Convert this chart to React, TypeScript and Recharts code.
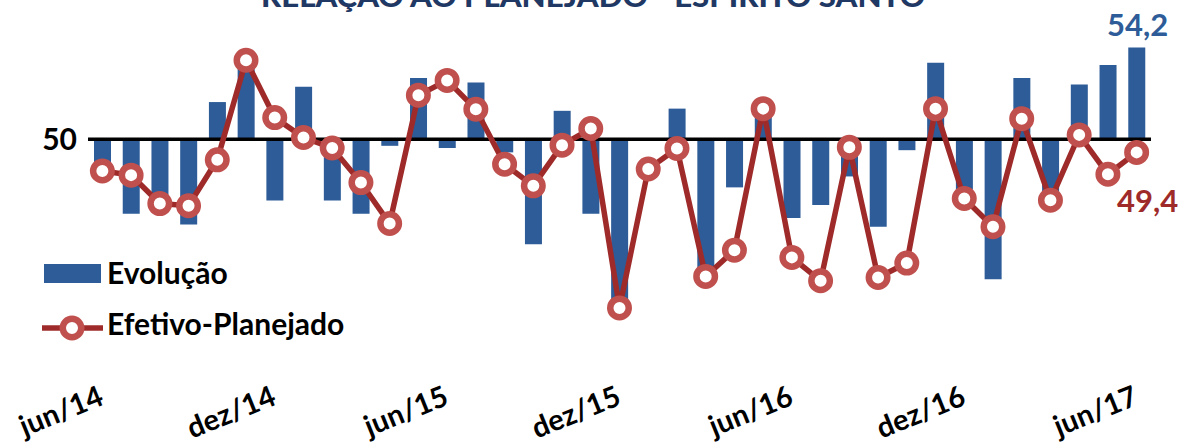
import React from "react";
import { ComposedChart, Bar, Line, XAxis, YAxis, ReferenceLine, ReferenceDot, LabelList } from "recharts";

const months = [
  "jun/14", "jul/14", "ago/14", "set/14", "out/14", "nov/14", "dez/14",
  "jan/15", "fev/15", "mar/15", "abr/15", "mai/15", "jun/15",
  "jul/15", "ago/15", "set/15", "out/15", "nov/15", "dez/15",
  "jan/16", "fev/16", "mar/16", "abr/16", "mai/16", "jun/16",
  "jul/16", "ago/16", "set/16", "out/16", "nov/16", "dez/16",
  "jan/17", "fev/17", "mar/17", "abr/17", "mai/17", "jun/17",
];

const evolucao = [
  48.7, 46.6, 46.7, 46.1, 51.7, 53.4, 47.2, 52.4, 47.2, 46.6, 49.7, 52.8, 49.6,
  52.6, 49.4, 45.2, 51.3, 46.6, 42.4, 50.0, 51.4, 44.0, 47.8, 51.2, 46.4,
  47.0, 48.3, 46.0, 49.5, 53.5, 47.7, 43.6, 52.8, 47.5, 52.5, 53.4, 54.2,
];

const efetivoPlanejado = [
  48.55, 48.36, 47.06, 46.96, 49.06, 53.61, 50.99, 50.08, 49.6, 48.02, 46.15, 52.01, 52.69,
  51.37, 48.86, 47.87, 49.73, 50.49, 42.29, 48.64, 49.58, 43.73, 44.93, 51.4, 44.6,
  43.53, 49.63, 43.68, 44.34, 51.4, 47.29, 46.0, 50.94, 47.21, 50.2, 48.4, 49.4,
];

const BASE = 50;
const yTicks = [50];

const data = months.map((m, i) => ({
  mes: m,
  evolucao: evolucao[i],
  efetivo: efetivoPlanejado[i],
}));

const FONT = "Lato, 'Open Sans', sans-serif";
const BLUE = "#2D5C98";
const LINE_RED = "#9E2B2A";
const MARK_RED = "#C0504D";
const last = months.length - 1;

const fmt = (v: number) => v.toFixed(1).replace(".", ",");

const MonthTick = (props: any) => {
  const { x, y, payload } = props;
  const tx = x + 3;
  const ty = y + 38;
  return (
    <text
      x={tx}
      y={ty}
      transform={`rotate(-22, ${tx}, ${ty})`}
      textAnchor="end"
      fontFamily={FONT}
      fontWeight={700}
      fontSize={29}
      fill="#000"
    >
      {payload.value}
    </text>
  );
};

export default function App() {
  return (
    <div style={{ position: "absolute", left: 0, top: 0, width: 1180, height: 444, background: "#fff" }}>
      <ComposedChart
        width={1180}
        height={444}
        data={data}
        margin={{ top: 8, right: 29, left: 0, bottom: 0 }}
        barSize={17}
      >
        <XAxis
          dataKey="mes"
          interval={5}
          tickLine={false}
          axisLine={false}
          height={86}
          tick={<MonthTick />}
        />
        <YAxis
          domain={[40, 56]}
          ticks={yTicks}
          width={88}
          tickLine={false}
          axisLine={false}
          tickSize={0}
          tickMargin={11}
          tick={{ fontFamily: FONT, fontWeight: 700, fontSize: 30, fill: "#000" }}
        />
        <Bar
          dataKey={(d: any) => [Math.min(BASE, d.evolucao), Math.max(BASE, d.evolucao)]}
          name="Evolução"
          fill={BLUE}
          isAnimationActive={false}
        />
        <ReferenceLine y={BASE} stroke="#000" strokeWidth={3.5} />
        <ReferenceDot
          x={months[last]}
          y={evolucao[last]}
          r={0}
          shape={(p: any) => (
            <text
              x={p.cx + 1}
              y={p.cy - 11}
              textAnchor="middle"
              fontFamily={FONT}
              fontWeight={700}
              fontSize={31}
              fill={BLUE}
            >
              {fmt(evolucao[last])}
            </text>
          )}
        />
        <Line
          type="linear"
          dataKey="efetivo"
          name="Efetivo-Planejado"
          stroke={LINE_RED}
          strokeWidth={5.5}
          dot={{ r: 9.25, fill: "#fff", stroke: MARK_RED, strokeWidth: 6.5 }}
          isAnimationActive={false}
        >
          <LabelList
            dataKey="efetivo"
            content={(p: any) =>
              p.index === last ? (
                <text
                  x={p.x + 11}
                  y={p.y + 60}
                  textAnchor="middle"
                  fontFamily={FONT}
                  fontWeight={700}
                  fontSize={31}
                  fill={LINE_RED}
                >
                  {fmt(efetivoPlanejado[last])}
                </text>
              ) : null
            }
          />
        </Line>
      </ComposedChart>
      <svg
        width={1180}
        height={444}
        style={{ position: "absolute", left: 0, top: 0, pointerEvents: "none" }}
      >
        <text
          x={593}
          y={7}
          textAnchor="middle"
          fontFamily={FONT}
          fontWeight={900}
          fontSize={28}
          fill="#1F3864"
          textLength={664}
          lengthAdjust="spacingAndGlyphs"
        >
          RELAÇÃO AO PLANEJADO - ESPÍRITO SANTO
        </text>
        <rect x={44} y={264} width={57} height={19} fill={BLUE} />
        <text x={107} y={284} fontFamily={FONT} fontWeight={700} fontSize={30} fill="#000">
          Evolução
        </text>
        <line x1={42} y1={328} x2={103} y2={328} stroke={LINE_RED} strokeWidth={5.5} />
        <circle cx={72} cy={328} r={9.25} fill="#fff" stroke={MARK_RED} strokeWidth={6.5} />
        <text x={107} y={335} fontFamily={FONT} fontWeight={700} fontSize={30} fill="#000">
          Efetivo-Planejado
        </text>
      </svg>
    </div>
  );
}
